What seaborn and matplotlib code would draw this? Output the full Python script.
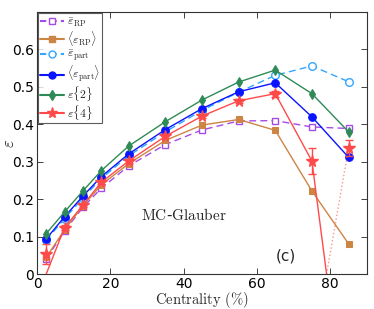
import numpy as np
import pandas as pd
import matplotlib
matplotlib.use("Agg")
import matplotlib.pyplot as plt
import seaborn as sns
from matplotlib.lines import Line2D

# -----------------------------
# Data
# -----------------------------
centrality = [2.5, 7.5, 12.5, 17.5, 25, 35, 45, 55, 65, 75, 85]

eps_rp_bar = [0.040, 0.115, 0.178, 0.229, 0.289, 0.346, 0.385, 0.409, 0.410, 0.393, 0.389]
eps_rp_mean = [0.045, 0.118, 0.182, 0.238, 0.295, 0.357, 0.398, 0.413, 0.384, 0.222, 0.081]
eps_part_bar = [0.090, 0.148, 0.203, 0.255, 0.316, 0.380, 0.437, 0.486, 0.531, 0.556, 0.514]
eps_part_mean = [0.094, 0.153, 0.208, 0.260, 0.321, 0.386, 0.442, 0.487, 0.511, 0.420, 0.312]
eps2 = [0.108, 0.166, 0.222, 0.276, 0.342, 0.407, 0.465, 0.513, 0.545, 0.482, 0.380]
eps4 = [0.054, 0.124, 0.184, 0.245, 0.302, 0.368, 0.422, 0.463, 0.482, 0.302, 0.336]
eps4_err = [0.026, 0.006, 0.005, 0.005, 0.005, 0.005, 0.005, 0.006, 0.008, 0.035, 0.021]

# eps{4} line: real part, drops to zero where eps{4}^4 changes sign
eps4_line_x = [2.5, 7.5, 12.5, 17.5, 25, 35, 45, 55, 65, 75, 79]
eps4_line = [0.0, 0.124, 0.184, 0.245, 0.302, 0.368, 0.422, 0.463, 0.482, 0.302, 0.0]
eps4_dot_x = [79, 85]
eps4_dot = [0.0, 0.336]

x_ticks = [0, 20, 40, 60, 80]
y_ticks = [0, 0.1, 0.2, 0.3, 0.4, 0.5, 0.6]
y_tick_labels = ["0", "0.1", "0.2", "0.3", "0.4", "0.5", "0.6"]

# -----------------------------
# Style
# -----------------------------
sns.set_style("ticks")
plt.rcParams["font.family"] = ["DejaVu Sans"]
plt.rcParams["mathtext.fontset"] = "cm"

c_purple = "#a64be8"
c_brown = "#cd8544"
c_lblue = "#33a6ff"
c_blue = "#0a14ff"
c_green = "#2e8b57"
c_red = "#ff4a4a"

fig = plt.figure(figsize=(3.74, 3.09), dpi=100)
ax = fig.add_axes([0.099, 0.113, 0.882, 0.848])

# -----------------------------
# Plot series
# -----------------------------
sns.lineplot(x=centrality, y=eps_rp_bar, ax=ax, color=c_purple, linestyle=(0, (5, 3)),
             marker="s", markersize=4.5, markerfacecolor="white", markeredgecolor=c_purple,
             markeredgewidth=1, linewidth=1)
sns.lineplot(x=centrality, y=eps_rp_mean, ax=ax, color=c_brown, marker="s", markersize=4.5,
             markeredgecolor=c_brown, linewidth=1)
sns.lineplot(x=centrality, y=eps_part_bar, ax=ax, color=c_lblue, linestyle=(0, (5, 3)),
             marker="o", markersize=5.5, markerfacecolor="white", markeredgecolor=c_lblue,
             markeredgewidth=1, linewidth=1)
sns.lineplot(x=centrality, y=eps_part_mean, ax=ax, color=c_blue, marker="o", markersize=5.5,
             markeredgecolor=c_blue, linewidth=1)
sns.lineplot(x=centrality, y=eps2, ax=ax, color=c_green, marker="d", markersize=5.5,
             markeredgecolor=c_green, linewidth=1)

sns.lineplot(x=eps4_line_x, y=eps4_line, ax=ax, color=c_red, linewidth=1)
ax.plot(eps4_dot_x, eps4_dot, color=c_red, linestyle=":", linewidth=1, alpha=0.6)
ax.errorbar(centrality, eps4, yerr=eps4_err, fmt="*", color=c_red, markersize=8.5,
            ecolor=c_red, elinewidth=1, capsize=3, zorder=5)

# -----------------------------
# Axes
# -----------------------------
ax.set_xlim(0, 90)
ax.set_ylim(0, 0.7)
ax.set_xticks(x_ticks)
ax.set_yticks(y_ticks)
ax.set_yticklabels(y_tick_labels)
ax.tick_params(direction="in", top=True, right=True, labelsize=10, length=4, width=0.6,
               pad=2, colors="#222222", labelcolor="black")
for s in ax.spines.values():
    s.set_linewidth(0.8)
    s.set_color("#333333")
ax.set_xlabel(r"$\mathrm{Centrality\ (\%)}$", fontsize=10.5, va="center")
ax.xaxis.set_label_coords(0.5, -0.1)
ax.set_ylabel(r"$\varepsilon$", fontsize=12, va="center", rotation=90)
ax.yaxis.set_label_coords(-0.085, 0.5)

ax.text(40, 0.158, r"$\mathrm{MC}$-$\mathrm{Glauber}$", fontsize=11, ha="center", va="center")
ax.text(68, 0.048, "(c)", fontsize=11, ha="center", va="center")

# -----------------------------
# Legend
# -----------------------------
handles = [
    Line2D([], [], color=c_purple, linestyle=(0, (3, 2)), marker="s", markersize=4.5,
           markerfacecolor="white", markeredgecolor=c_purple),
    Line2D([], [], color=c_brown, marker="s", markersize=4.5),
    Line2D([], [], color=c_lblue, linestyle=(0, (3, 2)), marker="o", markersize=5,
           markerfacecolor="white", markeredgecolor=c_lblue),
    Line2D([], [], color=c_blue, marker="o", markersize=5),
    Line2D([], [], color=c_green, marker="d", markersize=5),
    Line2D([], [], color=c_red, marker="*", markersize=8),
]
labels = [r"$\bar{\varepsilon}_{\rm RP}$", r"$\langle\varepsilon_{\rm RP}\rangle$",
          r"$\bar{\varepsilon}_{\rm part}$", r"$\langle\varepsilon_{\rm part}\rangle$",
          r"$\varepsilon\{2\}$", r"$\varepsilon\{4\}$"]
leg = ax.legend(handles, labels, loc="upper left", fontsize=8.5, frameon=True, fancybox=False,
                edgecolor="#333333", borderaxespad=0.1, handlelength=2.0, handletextpad=0.3,
                labelspacing=0.0, borderpad=0.15)
leg.get_frame().set_linewidth(0.8)

plt.savefig("out.png", dpi=100)
